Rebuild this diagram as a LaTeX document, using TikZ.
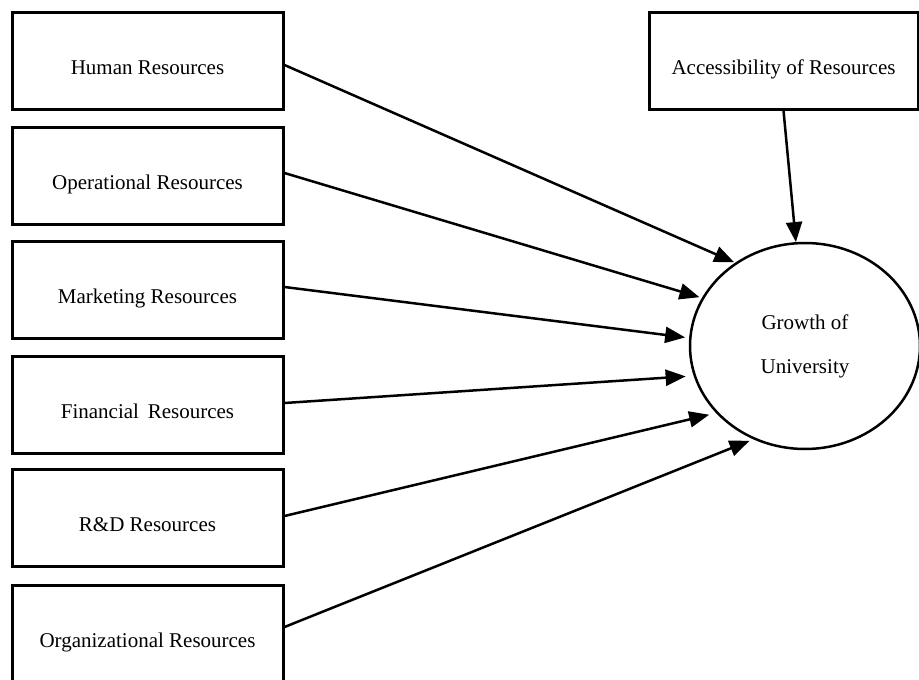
\documentclass[tikz,border=0pt]{standalone}
\usepackage{fontspec}
\setmainfont{Liberation Serif}
\usetikzlibrary{arrows.meta,shapes.geometric}
\begin{document}
\begin{tikzpicture}[x=1pt,y=-1pt,
  resbox/.style={draw=black,line width=3pt,minimum width=271pt,minimum height=97pt,inner sep=0pt,fill=white},
  boxtext/.style={anchor=base,inner sep=0pt,font=\fontsize{21}{25}\selectfont},
  conn/.style={line width=2.5pt,-{Triangle[length=20pt,width=16pt]}},
  outcome/.style={draw=black,ellipse,line width=2.5pt,minimum width=230pt,minimum height=206pt,inner sep=0pt,align=center,font=\fontsize{21}{44}\selectfont}
]
\useasboundingbox (0,0) rectangle (919,680);
\node[resbox] (hr) at (147.5,60.5) {};
\node[resbox] (op) at (147.5,176) {};
\node[resbox] (mk) at (147.5,289.5) {};
\node[resbox] (fi) at (147.5,404.5) {};
\node[resbox] (rd) at (147.5,518) {};
\node[resbox] (og) at (147.5,634) {};
\node[resbox,minimum width=269pt] (ac) at (783.5,60.5) {};
\node[boxtext] (hrt) at ([yshift=-13.5pt]hr.center) {Human Resources};
\node[boxtext] (opt) at ([yshift=-13.5pt]op.center) {Operational Resources};
\node[boxtext] (mkt) at ([yshift=-13.5pt]mk.center) {Marketing Resources};
\node[boxtext] (fit) at ([yshift=-13.5pt]fi.center) {Financial\,\ Resources};
\node[boxtext] (rdt) at ([yshift=-13.5pt]rd.center) {R\&D Resources};
\node[boxtext] (ogt) at ([yshift=-13.5pt]og.center) {Organizational Resources};
\node[boxtext] (act) at ([yshift=-13.5pt]ac.center) {Accessibility of Resources};
\node[outcome] (g) at (805,346) {Growth of\\University};
\draw[conn,shorten >=1pt] ([yshift=-4.5pt]hr.east) -- (g.130);
\draw[conn,shorten >=2.5pt] ([yshift=3pt]op.east) -- (g.155);
\draw[conn,shorten >=4pt] ([yshift=2.5pt]mk.east) -- (g.176);
\draw[conn,shorten >=8pt] ([yshift=1.5pt]fi.east) -- (g.195);
\draw[conn,shorten >=7pt] ([yshift=2pt]rd.east) -- (g.217);
\draw[conn,shorten >=4pt] ([yshift=7pt]og.east) -- (g.241.5);
\draw[conn] (ac.south) -- (g.95);
\end{tikzpicture}
\end{document}
